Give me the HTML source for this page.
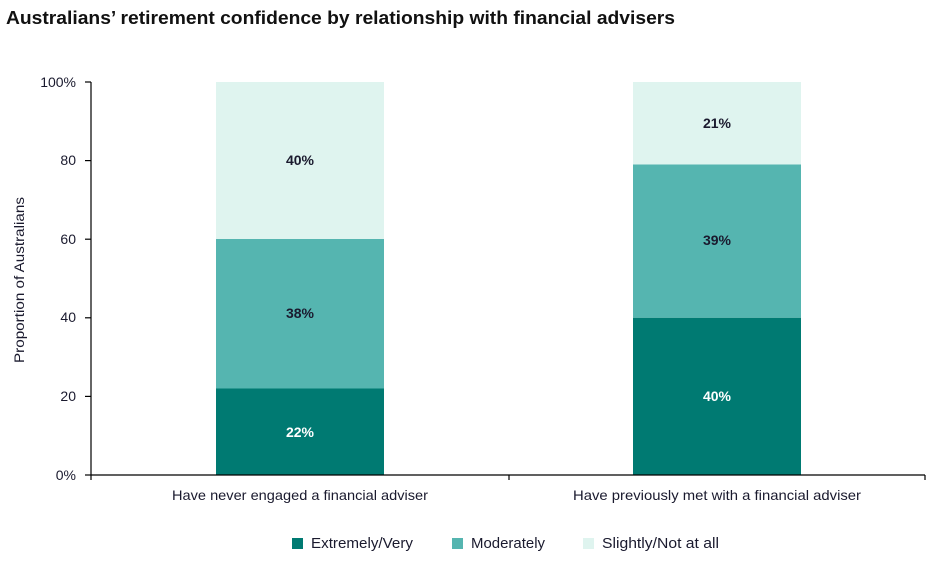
<!DOCTYPE html>
<html><head><meta charset="utf-8"><style>
body{margin:0;background:#fff;}
svg text{font-family:"Liberation Sans",sans-serif;fill:#1a1a2e;}
</style></head><body>
<svg width="930" height="558" xmlns="http://www.w3.org/2000/svg">
<text x="6" y="24" font-size="18" font-weight="bold" textLength="669" lengthAdjust="spacingAndGlyphs" style="fill:#111">Australians’ retirement confidence by relationship with financial advisers</text>
<g font-size="14" text-anchor="end">
<text x="76" y="480">0%</text>
<text x="76" y="401">20</text>
<text x="76" y="322">40</text>
<text x="76" y="244">60</text>
<text x="76" y="165">80</text>
<text x="76" y="87">100%</text>
</g>
<text transform="translate(24,280) rotate(-90)" font-size="13.5" text-anchor="middle" textLength="166" lengthAdjust="spacingAndGlyphs">Proportion of Australians</text>
<rect x="216" y="82" width="168" height="157" fill="#dff4ef"/>
<rect x="216" y="239" width="168" height="149.5" fill="#55b5b0"/>
<rect x="216" y="388.5" width="168" height="86.5" fill="#007a72"/>
<rect x="633" y="82" width="168" height="82.5" fill="#dff4ef"/>
<rect x="633" y="164.5" width="168" height="153.3" fill="#55b5b0"/>
<rect x="633" y="317.8" width="168" height="157.2" fill="#007a72"/>
<g stroke="#000" stroke-width="1.2">
<line x1="91" y1="82" x2="91" y2="480"/>
<line x1="91" y1="475" x2="925" y2="475"/>
<line x1="85" y1="82" x2="91" y2="82"/>
<line x1="85" y1="160.6" x2="91" y2="160.6"/>
<line x1="85" y1="239.2" x2="91" y2="239.2"/>
<line x1="85" y1="317.8" x2="91" y2="317.8"/>
<line x1="85" y1="396.4" x2="91" y2="396.4"/>
<line x1="85" y1="475" x2="91" y2="475"/>
<line x1="509" y1="475" x2="509" y2="480"/>
<line x1="925" y1="475" x2="925" y2="480"/>
</g>
<g font-size="14" font-weight="bold" text-anchor="middle">
<text x="300" y="165">40%</text>
<text x="300" y="318">38%</text>
<text x="300" y="437" style="fill:#fff">22%</text>
<text x="717" y="128">21%</text>
<text x="717" y="245">39%</text>
<text x="717" y="401" style="fill:#fff">40%</text>
</g>
<g font-size="14" text-anchor="middle">
<text x="300" y="500" textLength="256" lengthAdjust="spacingAndGlyphs">Have never engaged a financial adviser</text>
<text x="717" y="500" textLength="288" lengthAdjust="spacingAndGlyphs">Have previously met with a financial adviser</text>
</g>
<rect x="292" y="538" width="11" height="11" fill="#007a72"/>
<text x="311" y="548" font-size="14.5" textLength="102" lengthAdjust="spacingAndGlyphs">Extremely/Very</text>
<rect x="452" y="538" width="11" height="11" fill="#55b5b0"/>
<text x="471" y="548" font-size="14.5" textLength="74" lengthAdjust="spacingAndGlyphs">Moderately</text>
<rect x="583" y="538" width="11" height="11" fill="#dff4ef"/>
<text x="602" y="548" font-size="14.5" textLength="117" lengthAdjust="spacingAndGlyphs">Slightly/Not at all</text>
</svg>
</body></html>
